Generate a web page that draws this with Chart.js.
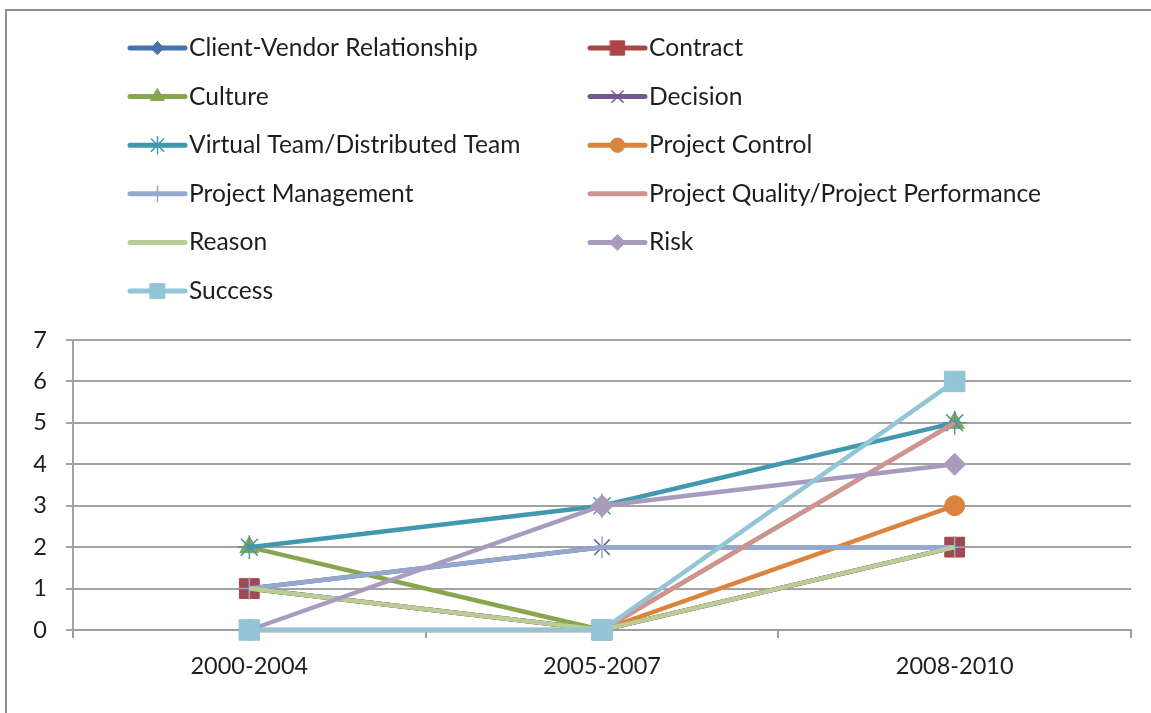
<!DOCTYPE html>
<html>
<head>
<meta charset="utf-8">
<title>Themes by period</title>
<script src="https://cdn.jsdelivr.net/npm/chart.js@4.4.1/dist/chart.umd.min.js"></script>
<style>
  html, body { margin: 0; padding: 0; background: #fff; overflow: hidden; }
  #wrap { position: relative; width: 1151px; height: 713px; }
  #frame { position: absolute; left: 5px; top: 9px; width: 1300px; height: 900px; border: 2px solid #8e8e8e; box-sizing: border-box; }
  #chart { position: absolute; left: 0; top: 0; }
</style>
</head>
<body>
<div id="wrap">
  <div id="frame"></div>
  <canvas id="chart" width="1151" height="713"></canvas>
</div>
<script>
// categories
var periods = ['2000-2004', '2005-2007', '2008-2010']
var yTicks = [0, 1, 2, 3, 4, 5, 6, 7]

// series values (several hidden under later series)
var clientVendor   = [1, 0, 2]
var contract       = [1, 0, 2]
var culture        = [2, 0, 5]
var decision       = [1, 2, 2]
var virtualTeam    = [2, 3, 5]
var projectControl = [0, 0, 3]
var projectMgmt    = [1, 2, 2]
var projectQuality = [0, 0, 5]
var reason         = [1, 0, 2]
var risk           = [0, 3, 4]
var success        = [0, 0, 6]

var FONT = 'Lato, "Open Sans", sans-serif'

var series = [
  { label: 'Client-Vendor Relationship',          data: clientVendor,   color: '#4572A7', style: 'rectRot',  r: 9 },
  { label: 'Contract',                            data: contract,       color: '#AA4643', style: 'rect',     r: 14 },
  { label: 'Culture',                             data: culture,        color: '#89A54E', style: 'triangle', r: 11 },
  { label: 'Decision',                            data: decision,       color: '#71588F', style: 'crossRot', r: 11 },
  { label: 'Virtual Team/Distributed Team',       data: virtualTeam,    color: '#4198AF', style: 'star',     r: 12 },
  { label: 'Project Control',                     data: projectControl, color: '#DB843D', style: 'circle',   r: 10 },
  { label: 'Project Management',                  data: projectMgmt,    color: '#93A9CF', style: 'cross',    r: 11 },
  { label: 'Project Quality/Project Performance', data: projectQuality, color: '#D19392', style: false,      r: 0 },
  { label: 'Reason',                              data: reason,         color: '#B9CD96', style: false,      r: 0 },
  { label: 'Risk',                                data: risk,           color: '#A99BBD', style: 'rectRot',  r: 11 },
  { label: 'Success',                             data: success,        color: '#92C5D6', style: 'rect',     r: 14.5 }
]

var datasets = series.map(function(s, i){
  var thin = (s.style === 'cross' || s.style === 'crossRot' || s.style === 'star')
  return {
    label: s.label,
    data: s.data,
    borderColor: s.color,
    backgroundColor: s.color,
    borderWidth: 4.5,
    pointStyle: s.style || 'circle',
    pointRadius: s.r,
    pointBorderWidth: thin ? 1.5 : 1,
    pointBackgroundColor: s.color,
    pointBorderColor: s.color,
    tension: 0,
    clip: false,               // markers on the 0 line are not cut in half
    order: series.length - i   // later series painted on top, like the original
  }
})

// two-column legend in the space above the plot
var legendColumns = {
  id: 'legendColumns',
  afterDraw: function(chart){
    var ctx = chart.ctx
    var cols = [{ x0: 130, x1: 185, tx: 189 }, { x0: 590, x1: 645, tx: 649 }]
    ctx.save()
    chart.data.datasets.forEach(function(ds, i){
      var col = cols[i % 2]
      var y = 48 + Math.floor(i / 2) * 48.6
      ctx.strokeStyle = ds.borderColor
      ctx.lineWidth = 5
      ctx.lineCap = 'round'
      ctx.beginPath()
      ctx.moveTo(col.x0, y)
      ctx.lineTo(col.x1, y)
      ctx.stroke()
      if (ds.pointRadius > 0) {
        ctx.fillStyle = ds.pointBackgroundColor
        ctx.strokeStyle = ds.pointBorderColor
        ctx.lineWidth = ds.pointBorderWidth
        Chart.helpers.drawPoint(ctx, {
          pointStyle: ds.pointStyle,
          radius: ds.pointRadius * 0.72,
          rotation: 0,
          borderWidth: ds.pointBorderWidth
        }, (col.x0 + col.x1) / 2, y)
      }
      ctx.fillStyle = '#1e1e1e'
      ctx.font = '24.6px ' + FONT
      ctx.textBaseline = 'middle'
      ctx.textAlign = 'left'
      ctx.fillText(ds.label, col.tx, y)
    })
    ctx.restore()
  }
}

var chart = new Chart(document.getElementById('chart'), {
  type: 'line',
  data: { labels: periods, datasets: datasets },
  options: {
    responsive: false,
    animation: false,
    devicePixelRatio: 1,
    layout: { padding: { top: 340, right: 20, left: 0, bottom: 0 } },
    plugins: { legend: { display: false }, tooltip: { enabled: false } },
    scales: {
      x: {
        offset: true,
        grid: { display: true, drawOnChartArea: false, drawTicks: true, tickLength: 8, color: '#9d9d9d', lineWidth: 2, offset: true },
        border: { display: true, color: '#9d9d9d', width: 2 },
        ticks: { color: '#1e1e1e', font: { family: FONT, size: 23.5 }, padding: 14, maxRotation: 0 },
        afterFit: function(s){ s.height = 83 }
      },
      y: {
        min: 0,
        max: yTicks[yTicks.length - 1],
        afterBuildTicks: function(s){ s.ticks = yTicks.map(function(v){ return { value: v } }) },
        grid: { color: '#a3a3a3', lineWidth: 2, tickLength: 7 },
        border: { display: true, color: '#a3a3a3', width: 2 },
        ticks: { color: '#1e1e1e', font: { family: FONT, size: 23.5 }, padding: 19 },
        afterFit: function(s){ s.width = 73 }
      }
    }
  },
  plugins: [legendColumns]
})
</script>
</body>
</html>
